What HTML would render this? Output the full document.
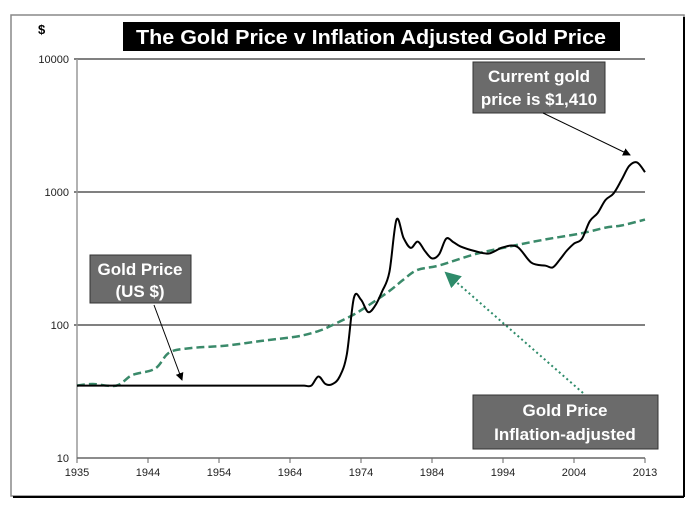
<!DOCTYPE html>
<html><head><meta charset="utf-8"><style>
body{margin:0;background:#fff;}
svg{display:block;font-family:"Liberation Sans",sans-serif;}
</style></head><body>
<svg width="699" height="516">
<defs>
<marker id="ab" markerWidth="8" markerHeight="8" refX="7" refY="4" orient="auto"><path d="M0,0L8,4L0,8z" fill="#000"/></marker>
<marker id="ag" markerWidth="8" markerHeight="8" refX="7" refY="4" orient="auto"><path d="M0,0L8,4L0,8z" fill="#2e8b6a"/></marker>
</defs>
<rect x="11" y="15" width="673" height="481" fill="#fff" stroke="#888" stroke-width="1.5"/>
<line x1="684" y1="17" x2="684" y2="497" stroke="#000" stroke-width="2"/>
<line x1="13" y1="497" x2="684" y2="497" stroke="#000" stroke-width="2"/>
<g id="grid"></g>
<g id="axes"></g>
<g id="series"></g>
<rect x="123" y="22" width="497" height="29" fill="#000"/>
<text x="371" y="44" text-anchor="middle" fill="#fff" font-size="20" font-weight="bold" textLength="470" lengthAdjust="spacingAndGlyphs">The Gold Price v Inflation Adjusted Gold Price</text>
<text x="38" y="34" font-size="13" font-weight="bold">$</text>
<rect x="473" y="62" width="132" height="51" fill="#6b6b6b" stroke="#333"/>
<text x="539" y="82" text-anchor="middle" fill="#fff" font-size="17" font-weight="bold">Current gold</text>
<text x="539" y="105" text-anchor="middle" fill="#fff" font-size="17" font-weight="bold">price is $1,410</text>
<line x1="543" y1="113" x2="630" y2="155" stroke="#000" stroke-width="1" marker-end="url(#ab)"/>
<rect x="90" y="255" width="101" height="48" fill="#6b6b6b" stroke="#333"/>
<text x="140" y="275" text-anchor="middle" fill="#fff" font-size="17" font-weight="bold">Gold Price</text>
<text x="140" y="297" text-anchor="middle" fill="#fff" font-size="17" font-weight="bold">(US $)</text>
<line x1="154" y1="305" x2="182" y2="380" stroke="#000" stroke-width="1" marker-end="url(#ab)"/>
<rect x="473" y="395" width="185" height="54" fill="#6b6b6b" stroke="#333"/>
<text x="565" y="416" text-anchor="middle" fill="#fff" font-size="17" font-weight="bold">Gold Price</text>
<text x="565" y="440" text-anchor="middle" fill="#fff" font-size="17" font-weight="bold">Inflation-adjusted</text>
<line x1="583" y1="393" x2="446" y2="273" stroke="#2e8b6a" stroke-width="2" stroke-dasharray="2,3" marker-end="url(#ag)"/>
</svg>
<script>
const tickYears=[1935,1944,1954,1964,1974,1984,1994,2004,2013];
const yTicks=[10,100,1000,10000];
const goldYears=[1935,1940,1945,1950,1955,1960,1963,1965,1966,1967,1968,1969,1970,1971,1972,1973,1974,1975,1976,1977,1978,1979,1980,1981,1982,1983,1984,1985,1986,1987,1988,1990,1992,1994,1996,1998,2000,2001,2002,2003,2004,2005,2006,2007,2008,2009,2010,2011,2012,2013];
const goldValues=[35,35,35,35,35,35,35,35,35,35,41,36,36,41,60,160,155,125,140,180,250,620,450,380,424,360,317,340,446,420,390,360,345,384,388,294,279,271,310,363,409,444,603,695,872,972,1225,1570,1670,1410];
const infYears=[1935,1937,1940,1942,1945,1947,1950,1955,1960,1965,1968,1970,1973,1975,1978,1980,1982,1985,1990,1995,2000,2005,2008,2010,2013];
const infValues=[35,36,35,42,47,62,67,70,76,82,90,100,120,140,180,220,260,280,340,390,440,490,540,560,620];
const NS='http://www.w3.org/2000/svg';
const X0=77,X1=645,Y10=458,DEC=133;
function xs(yr){for(let i=0;i<tickYears.length-1;i++){const a=tickYears[i],b=tickYears[i+1];if(yr<=b||i===tickYears.length-2){return X0+(i+(yr-a)/(b-a))*(X1-X0)/(tickYears.length-1);}}}
function ys(v){return Y10-(Math.log10(v)-1)*DEC;}
function mk(tag,attrs,parent){const e=document.createElementNS(NS,tag);for(const k in attrs)e.setAttribute(k,attrs[k]);document.getElementById(parent).appendChild(e);return e;}
yTicks.forEach(v=>{
 if(v>10){const l=mk('line',{x1:X0-3,x2:X1,y1:ys(v),y2:ys(v),stroke:'#000','stroke-width':1},'grid');
 
 }
 const t=mk('text',{x:X0-8,y:ys(v)+4,'text-anchor':'end','font-size':11,fill:'#222'},'axes');t.textContent=v;
 
 
});
mk('line',{x1:X0,x2:X0,y1:ys(10000),y2:Y10,stroke:'#999','stroke-width':1.5},'axes');
mk('line',{x1:X0,x2:X1,y1:Y10,y2:Y10,stroke:'#666','stroke-width':1.5},'axes');
tickYears.forEach(yr=>{
 mk('line',{x1:xs(yr),x2:xs(yr),y1:Y10,y2:Y10+5,stroke:'#666'},'axes');
 const t=mk('text',{x:xs(yr),y:Y10+18,'text-anchor':'middle','font-size':11,fill:'#222'},'axes');t.textContent=yr;
 
 
});
function path(yrs,vals){
 const p=yrs.map((y,i)=>[xs(y),ys(vals[i])]);
 let d='M'+p[0][0].toFixed(1)+','+p[0][1].toFixed(1);
 for(let i=0;i<p.length-1;i++){
  const p0=p[Math.max(0,i-1)],p1=p[i],p2=p[i+1],p3=p[Math.min(p.length-1,i+2)];
  const c1=[p1[0]+(p2[0]-p0[0])/6,p1[1]+(p2[1]-p0[1])/6];
  const c2=[p2[0]-(p3[0]-p1[0])/6,p2[1]-(p3[1]-p1[1])/6];
  d+='C'+c1[0].toFixed(1)+','+c1[1].toFixed(1)+' '+c2[0].toFixed(1)+','+c2[1].toFixed(1)+' '+p2[0].toFixed(1)+','+p2[1].toFixed(1);
 }
 return d;
}
const inf=mk('path',{d:path(infYears,infValues),fill:'none',stroke:'#3a8a6a','stroke-width':2.5,'stroke-dasharray':'8,4'},'series');


const g=mk('path',{d:path(goldYears,goldValues),fill:'none',stroke:'#000','stroke-width':2,'stroke-linejoin':'round'},'series');


</script>
</body></html>
